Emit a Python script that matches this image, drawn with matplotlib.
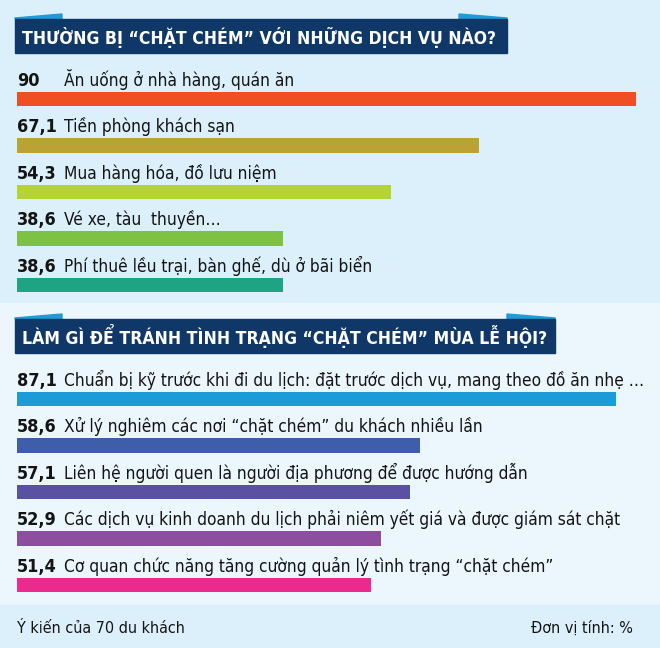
import os

os.environ.setdefault("MPLCONFIGDIR", "/tmp")
import matplotlib
matplotlib.use("Agg")
import matplotlib.pyplot as plt
from matplotlib import font_manager
from matplotlib.patches import Polygon, Rectangle


# data
services_title = "THƯỜNG BỊ “CHẶT CHÉM” VỚI NHỮNG DỊCH VỤ NÀO?"
services = [
    "Ăn uống ở nhà hàng, quán ăn",
    "Tiền phòng khách sạn",
    "Mua hàng hóa, đồ lưu niệm",
    "Vé xe, tàu  thuyền…",
    "Phí thuê lều trại, bàn ghế, dù ở bãi biển",
]
services_pct = [90, 67.1, 54.3, 38.6, 38.6]

fixes_title = "LÀM GÌ ĐỂ TRÁNH TÌNH TRẠNG “CHẶT CHÉM” MÙA LỄ HỘI?"
fixes = [
    "Chuẩn bị kỹ trước khi đi du lịch: đặt trước dịch vụ, mang theo đồ ăn nhẹ …",
    "Xử lý nghiêm các nơi “chặt chém” du khách nhiều lần",
    "Liên hệ người quen là người địa phương để được hướng dẫn",
    "Các dịch vụ kinh doanh du lịch phải niêm yết giá và được giám sát chặt",
    "Cơ quan chức năng tăng cường quản lý tình trạng “chặt chém”",
]
fixes_pct = [87.1, 58.6, 57.1, 52.9, 51.4]

note_left = "Ý kiến của 70 du khách"
note_right = "Đơn vị tính: %"

# style
W, H = 660, 648
PX_PER_PCT = 6.88
BAR_X0 = 17
BAR_H = 14.5
ROW_STEP = 46.5
TEXT_DARK = "#141414"
NAVY = "#0f3869"
TAB_BLUE = "#1f9bd8"
BG_DARK = "#dcf0fb"
BG_LIGHT = "#ebf6fd"
SERVICE_COLORS = ["#f04f24", "#bba235", "#b6d336", "#7ec244", "#1ea482"]
FIX_COLORS = ["#1b9cd8", "#3f5ea9", "#5a51a3", "#8e4e9f", "#ec2a8d"]


def pick_font():
    names = {(f.name, f.stretch) for f in font_manager.fontManager.ttflist}
    if ("Liberation Sans Narrow", "condensed") in names or any(n == "Liberation Sans Narrow" for n, _ in names):
        return ["Liberation Sans Narrow", "DejaVu Sans"], "normal"
    if any(n == "DejaVu Sans" and s in ("condensed", "semi-condensed") for n, s in names):
        return ["DejaVu Sans"], "condensed"
    if any(n == "Roboto Condensed" for n, _ in names):
        return ["Roboto Condensed", "DejaVu Sans"], "normal"
    return ["Roboto", "DejaVu Sans"], "normal"


FAMILY, STRETCH = pick_font()


def fit_width(fig, texts, target_px):
    """Scale font size of a group so the first text spans target_px."""
    renderer = fig.canvas.get_renderer()
    width = texts[0].get_window_extent(renderer).width
    size = texts[0].get_fontsize() * target_px / width
    for t in texts:
        t.set_fontsize(size)


def draw_header(bg, text, top, right):
    bg.add_patch(Rectangle((15, top), right - 15, 34, color=NAVY, zorder=2))
    bg.add_patch(Polygon([(15, top), (15, top - 1), (62, top - 5), (62, top)],
                         closed=True, color=TAB_BLUE, zorder=1))
    bg.add_patch(Polygon([(right - 48, top), (right - 48, top - 5), (right, top - 1), (right, top)],
                         closed=True, color=TAB_BLUE, zorder=1))
    return bg.text(22, top + 25.5, text, color="white", fontsize=16, fontweight="bold",
                   family=FAMILY, fontstretch=STRETCH, va="baseline", ha="left", zorder=3)


def draw_panel(ax, labels, values, colors, first_center):
    centers = [first_center + i * ROW_STEP for i in range(len(values))]
    ax.barh(centers, values, height=BAR_H, color=colors, left=0, zorder=2)
    nums, descs = [], []
    label_x = (64 - BAR_X0) / PX_PER_PCT
    for c, v, lab in zip(centers, values, labels):
        base = c - BAR_H / 2 - 6
        num = f"{v:g}".replace(".", ",")
        nums.append(ax.text(0, base, num, fontsize=15, fontweight="bold", color=TEXT_DARK,
                            family=FAMILY, fontstretch=STRETCH, va="baseline", ha="left"))
        descs.append(ax.text(label_x, base, lab, fontsize=15, color=TEXT_DARK,
                             family=FAMILY, fontstretch=STRETCH, va="baseline", ha="left"))
    return nums, descs


fig = plt.figure(figsize=(W / 100, H / 100), dpi=100)

bg = fig.add_axes([0, 0, 1, 1])
bg.set_xlim(0, W)
bg.set_ylim(H, 0)
bg.axis("off")
bg.add_patch(Rectangle((0, 0), W, 303, color=BG_DARK, zorder=0))
bg.add_patch(Rectangle((0, 303), W, 302, color=BG_LIGHT, zorder=0))
bg.add_patch(Rectangle((0, 605), W, H - 605, color=BG_DARK, zorder=0))

t1 = draw_header(bg, services_title, 19, 507)
t2 = draw_header(bg, fixes_title, 319, 555)

ax = fig.add_axes([0, 0, 1, 1])
ax.patch.set_alpha(0)
ax.set_xlim(-BAR_X0 / PX_PER_PCT, (W - BAR_X0) / PX_PER_PCT)
ax.set_ylim(H, 0)
ax.axis("off")

n1, d1 = draw_panel(ax, services, services_pct, SERVICE_COLORS, 99)
n2, d2 = draw_panel(ax, fixes, fixes_pct, FIX_COLORS, 399)

f1 = bg.text(BAR_X0, 633, note_left, fontsize=13, color=TEXT_DARK, family=FAMILY,
             fontstretch=STRETCH, va="baseline", ha="left")
f2 = bg.text(633, 633, note_right, fontsize=13, color=TEXT_DARK, family=FAMILY,
             fontstretch=STRETCH, va="baseline", ha="right")

fig.canvas.draw()
fit_width(fig, [t2, t1], 526)
fit_width(fig, [n1[1]] + n1 + n2, 40)
fit_width(fig, [d2[0]] + d1 + d2, 585)
fit_width(fig, [f1, f2], 168)

fig.savefig("out.png", dpi=100)
plt.close(fig)
